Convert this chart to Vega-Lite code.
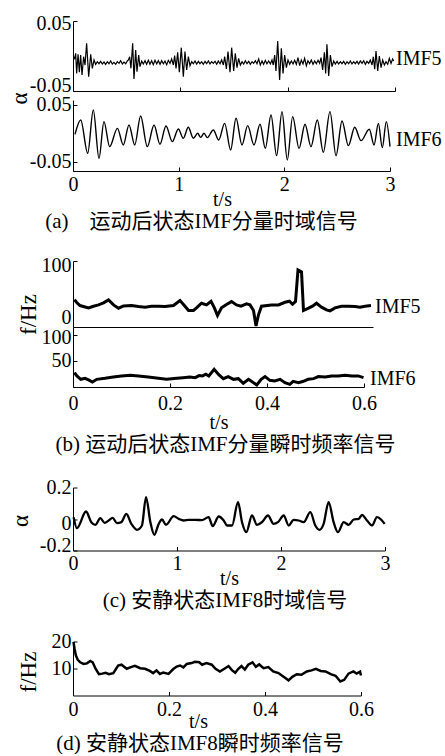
{
  "$schema": "https://vega.github.io/schema/vega-lite/v6.json",
  "padding": {"left": 8, "top": 13, "right": 0, "bottom": 0},
  "background": "white",
  "spacing": 23,
  "config": {
    "view": {"stroke": null},
    "font": "Liberation Serif",
    "axis": {
      "domainColor": "black", "domainWidth": 1, "tickColor": "black", "tickWidth": 1, "tickSize": -4,
      "labelColor": "black", "labelFont": "Liberation Serif", "labelFontSize": 20,
      "labelFlush": false, "labelOverlap": false,
      "titleColor": "black", "titleFont": "Liberation Serif", "titleFontSize": 23, "titleFontWeight": "normal",
      "grid": false
    },
    "axisX": {"labelPadding": 7, "labelAngle": 0, "titlePadding": -3, "titleFontSize": 20},
    "axisY": {"labelPadding": 6, "titleAngle": -90, "titleBaseline": "middle", "titleAlign": "center"},
    "title": {"font": "'Liberation Serif', 'Noto Sans CJK SC'", "fontSize": 21, "fontWeight": "normal", "color": "black", "orient": "bottom", "frame": "group", "anchor": "middle"},
    "text": {"font": "Liberation Serif", "fontSize": 20, "align": "left", "baseline": "middle", "color": "black"}
  },
  "vconcat": [
    {
      "bounds": "flush",
      "spacing": 9,
      "vconcat": [
        {
          "width": 322, "height": 70,
          "data": {"values": [
            {"t":0.009,"v":-0.0010},{"t":0.016,"v":-0.0033},{"t":0.025,"v":0.0038},{"t":0.034,"v":-0.0248},{"t":0.047,"v":0.0024},{"t":0.059,"v":-0.0233},{"t":0.071,"v":0.0014},{"t":0.084,"v":-0.0271},{"t":0.099,"v":-0.0010},{"t":0.112,"v":-0.0129},{"t":0.127,"v":0.0181},{"t":0.146,"v":-0.0295},{"t":0.165,"v":0.0024},{"t":0.180,"v":-0.0176},{"t":0.196,"v":-0.0057},{"t":0.211,"v":-0.0119},
            {"t":0.227,"v":-0.0081},{"t":0.242,"v":-0.0110},{"t":0.258,"v":-0.0076},{"t":0.273,"v":-0.0114},{"t":0.289,"v":-0.0086},{"t":0.304,"v":-0.0119},{"t":0.320,"v":-0.0081},{"t":0.335,"v":-0.0110},{"t":0.351,"v":-0.0071},{"t":0.366,"v":-0.0114},{"t":0.382,"v":-0.0090},{"t":0.398,"v":-0.0119},{"t":0.413,"v":-0.0081},{"t":0.429,"v":-0.0105},{"t":0.444,"v":-0.0067},{"t":0.460,"v":-0.0114},{"t":0.475,"v":-0.0086},{"t":0.491,"v":-0.0110},{"t":0.506,"v":-0.0071},
            {"t":0.516,"v":-0.0057},{"t":0.528,"v":-0.0010},{"t":0.540,"v":-0.0176},{"t":0.556,"v":0.0181},{"t":0.568,"v":-0.0329},{"t":0.584,"v":0.0086},{"t":0.596,"v":-0.0224},{"t":0.612,"v":0.0014},{"t":0.624,"v":-0.0152},{"t":0.640,"v":-0.0071},
            {"t":0.655,"v":-0.0114},{"t":0.671,"v":-0.0067},{"t":0.686,"v":-0.0119},{"t":0.702,"v":-0.0062},{"t":0.717,"v":-0.0119},{"t":0.733,"v":-0.0067},{"t":0.748,"v":-0.0124},{"t":0.764,"v":-0.0062},{"t":0.780,"v":-0.0114},{"t":0.795,"v":-0.0067},{"t":0.811,"v":-0.0119},{"t":0.826,"v":-0.0067},{"t":0.842,"v":-0.0110},{"t":0.857,"v":-0.0071},{"t":0.873,"v":-0.0124},{"t":0.888,"v":-0.0062},{"t":0.904,"v":-0.0105},{"t":0.919,"v":-0.0043},
            {"t":0.935,"v":-0.0129},{"t":0.947,"v":0.0005},{"t":0.960,"v":-0.0176},{"t":0.975,"v":0.0052},{"t":0.991,"v":-0.0233},{"t":1.009,"v":0.0119},{"t":1.028,"v":-0.0295},{"t":1.043,"v":0.0062},{"t":1.059,"v":-0.0200},{"t":1.075,"v":-0.0010},{"t":1.090,"v":-0.0138},{"t":1.106,"v":-0.0081},
            {"t":1.121,"v":-0.0110},{"t":1.137,"v":-0.0071},{"t":1.152,"v":-0.0114},{"t":1.168,"v":-0.0076},{"t":1.183,"v":-0.0110},{"t":1.199,"v":-0.0081},{"t":1.214,"v":-0.0119},{"t":1.230,"v":-0.0076},{"t":1.245,"v":-0.0110},{"t":1.261,"v":-0.0071},{"t":1.276,"v":-0.0114},{"t":1.292,"v":-0.0081},{"t":1.307,"v":-0.0105},{"t":1.323,"v":-0.0076},{"t":1.339,"v":-0.0119},{"t":1.354,"v":-0.0071},{"t":1.370,"v":-0.0110},{"t":1.385,"v":-0.0057},
            {"t":1.401,"v":-0.0129},{"t":1.413,"v":-0.0010},{"t":1.429,"v":-0.0186},{"t":1.444,"v":0.0062},{"t":1.463,"v":-0.0233},{"t":1.478,"v":0.0119},{"t":1.497,"v":-0.0214},{"t":1.512,"v":0.0038},{"t":1.528,"v":-0.0167},{"t":1.543,"v":-0.0033},{"t":1.559,"v":-0.0129},
            {"t":1.575,"v":-0.0081},{"t":1.590,"v":-0.0114},{"t":1.606,"v":-0.0067},{"t":1.621,"v":-0.0110},{"t":1.637,"v":-0.0076},{"t":1.652,"v":-0.0119},{"t":1.668,"v":-0.0081},{"t":1.683,"v":-0.0105},{"t":1.699,"v":-0.0067},{"t":1.714,"v":-0.0110},{"t":1.730,"v":-0.0043},{"t":1.745,"v":-0.0129},{"t":1.761,"v":-0.0071},{"t":1.776,"v":-0.0119},{"t":1.792,"v":-0.0062},{"t":1.807,"v":-0.0110},{"t":1.823,"v":-0.0071},{"t":1.839,"v":-0.0114},{"t":1.854,"v":-0.0057},
            {"t":1.866,"v":-0.0129},{"t":1.879,"v":0.0014},{"t":1.891,"v":-0.0214},{"t":1.907,"v":0.0214},{"t":1.925,"v":-0.0343},{"t":1.941,"v":0.0110},{"t":1.957,"v":-0.0248},{"t":1.972,"v":0.0014},{"t":1.988,"v":-0.0167},{"t":2.003,"v":-0.0057},{"t":2.019,"v":-0.0119},
            {"t":2.034,"v":-0.0071},{"t":2.050,"v":-0.0114},{"t":2.065,"v":-0.0062},{"t":2.081,"v":-0.0119},{"t":2.096,"v":-0.0024},{"t":2.112,"v":-0.0138},{"t":2.127,"v":-0.0057},{"t":2.143,"v":-0.0114},{"t":2.158,"v":-0.0033},{"t":2.174,"v":-0.0138},{"t":2.189,"v":-0.0067},{"t":2.205,"v":-0.0110},{"t":2.220,"v":-0.0057},{"t":2.236,"v":-0.0119},{"t":2.252,"v":-0.0071},{"t":2.267,"v":-0.0110},{"t":2.283,"v":-0.0062},{"t":2.298,"v":-0.0105},
            {"t":2.311,"v":-0.0024},{"t":2.326,"v":-0.0200},{"t":2.342,"v":0.0052},{"t":2.354,"v":-0.0248},{"t":2.366,"v":0.0167},{"t":2.382,"v":-0.0286},{"t":2.398,"v":0.0014},{"t":2.413,"v":-0.0152},{"t":2.429,"v":-0.0071},
            {"t":2.444,"v":-0.0114},{"t":2.460,"v":-0.0076},{"t":2.475,"v":-0.0114},{"t":2.491,"v":-0.0081},{"t":2.506,"v":-0.0110},{"t":2.522,"v":-0.0076},{"t":2.537,"v":-0.0119},{"t":2.553,"v":-0.0081},{"t":2.568,"v":-0.0110},{"t":2.584,"v":-0.0071},{"t":2.599,"v":-0.0114},{"t":2.615,"v":-0.0081},{"t":2.630,"v":-0.0110},{"t":2.646,"v":-0.0076},{"t":2.661,"v":-0.0114},{"t":2.677,"v":-0.0071},{"t":2.693,"v":-0.0105},{"t":2.708,"v":-0.0067},{"t":2.724,"v":-0.0119},{"t":2.739,"v":-0.0076},{"t":2.755,"v":-0.0105},{"t":2.770,"v":-0.0057},
            {"t":2.786,"v":-0.0129},{"t":2.798,"v":-0.0010},{"t":2.811,"v":-0.0190},{"t":2.823,"v":0.0071},{"t":2.839,"v":-0.0214},{"t":2.854,"v":0.0000},{"t":2.870,"v":-0.0167},{"t":2.885,"v":-0.0057},{"t":2.901,"v":-0.0129},
            {"t":2.916,"v":-0.0081},{"t":2.932,"v":-0.0119},{"t":2.947,"v":-0.0033},{"t":2.963,"v":-0.0105},{"t":2.978,"v":-0.0043},{"t":2.988,"v":-0.0071}
          ]},
          "layer": [
            {
              "mark": {"type": "line", "color": "black", "strokeWidth": 1.2},
              "encoding": {
                "x": {"field": "t", "type": "quantitative", "scale": {"domain": [0, 3], "nice": false, "zero": false},
                      "axis": {"values": [0, 1, 2, 3], "labels": false, "title": null}},
                "y": {"field": "v", "type": "quantitative", "scale": {"domain": [-0.05, 0.05], "nice": false, "zero": false},
                      "axis": {"values": [-0.05, 0, 0.05], "labelExpr": "'' + datum.value", "title": null,
                               "labelOffset": {"condition": {"test": "datum.value < 0", "value": -6}, "value": 2}}}
              }
            },
            {
              "data": {"values": [{"label": "IMF5"}]},
              "mark": {"type": "text", "dx": 1},
              "encoding": {
                "x": {"datum": 3, "type": "quantitative", "title": null},
                "y": {"datum": -0.004, "type": "quantitative", "title": null},
                "text": {"field": "label"}
              }
            }
          ]
        },
        {
          "width": 317, "height": 71,
          "title": {"text": "(a)\u3000运动后状态IMF分量时域信号", "dx": -30, "offset": 1.5},
          "data": {"values": [
            {"t":0.019,"v":-0.0018},{"t":0.073,"v":0.0235},{"t":0.139,"v":-0.0353},{"t":0.192,"v":0.0412},{"t":0.246,"v":-0.0441},{"t":0.293,"v":0.0206},{"t":0.347,"v":-0.0235},{"t":0.420,"v":0.0088},{"t":0.476,"v":-0.0206},{"t":0.530,"v":0.0147},{"t":0.584,"v":-0.0206},{"t":0.640,"v":0.0306},{"t":0.703,"v":-0.0235},{"t":0.767,"v":0.0147},{"t":0.823,"v":-0.0194},{"t":0.880,"v":0.0129},{"t":0.940,"v":-0.0147},{"t":0.997,"v":0.0076},{"t":1.044,"v":-0.0088},{"t":1.091,"v":0.0106},{"t":1.139,"v":-0.0088},{"t":1.180,"v":0.0000},{"t":1.208,"v":-0.0071},{"t":1.240,"v":0.0000},{"t":1.271,"v":-0.0076},{"t":1.328,"v":0.0059},{"t":1.379,"v":-0.0118},{"t":1.435,"v":0.0176},{"t":1.492,"v":-0.0294},{"t":1.543,"v":0.0265},{"t":1.599,"v":-0.0206},{"t":1.653,"v":0.0135},{"t":1.713,"v":-0.0206},{"t":1.770,"v":0.0159},{"t":1.820,"v":-0.0265},{"t":1.874,"v":0.0323},{"t":1.927,"v":-0.0394},{"t":1.978,"v":0.0382},{"t":2.028,"v":-0.0470},{"t":2.079,"v":0.0294},{"t":2.139,"v":-0.0265},{"t":2.196,"v":0.0159},{"t":2.252,"v":-0.0235},{"t":2.312,"v":0.0235},{"t":2.369,"v":-0.0335},{"t":2.432,"v":0.0382},{"t":2.489,"v":-0.0394},{"t":2.546,"v":0.0218},{"t":2.606,"v":-0.0218},{"t":2.666,"v":0.0106},{"t":2.726,"v":-0.0129},{"t":2.804,"v":0.0071},{"t":2.849,"v":-0.0206},{"t":2.890,"v":0.0176},{"t":2.927,"v":-0.0253},{"t":2.965,"v":0.0206},{"t":3.000,"v":-0.0235}
          ]},
          "layer": [
            {
              "mark": {"type": "line", "color": "black", "strokeWidth": 1.4, "interpolate": "monotone"},
              "encoding": {
                "x": {"field": "t", "type": "quantitative", "scale": {"domain": [0, 3], "nice": false, "zero": false},
                      "axis": {"values": [0, 1, 2, 3], "labelExpr": "'' + datum.value", "title": "t/s", "titleX": 149, "labelPadding": 7, "titlePadding": -5}},
                "y": {"field": "v", "type": "quantitative", "scale": {"domain": [-0.0665, 0.0588], "nice": false, "zero": false},
                      "axis": {"values": [-0.05, 0, 0.05], "labelExpr": "'' + datum.value", "title": "α", "titleX": -54, "titleY": -2}}
              }
            },
            {
              "data": {"values": [{"label": "IMF6"}]},
              "mark": {"type": "text", "dx": 6},
              "encoding": {
                "x": {"datum": 3, "type": "quantitative", "title": null},
                "y": {"datum": -0.012, "type": "quantitative", "title": null},
                "text": {"field": "label"}
              }
            }
          ]
        }
      ]
    },
    {
      "spacing": 22.5,
      "vconcat": [
        {
          "bounds": "flush",
          "spacing": 0,
          "vconcat": [
            {
              "width": 300, "height": 66,
              "data": {"values": [
                {"t":0.003,"v":41.5},{"t":0.007,"v":37.5},{"t":0.014,"v":32.5},{"t":0.031,"v":29},{"t":0.041,"v":31.5},{"t":0.051,"v":33.5},{"t":0.061,"v":36.5},{"t":0.071,"v":41},{"t":0.081,"v":33.5},{"t":0.091,"v":28.5},{"t":0.101,"v":32},{"t":0.117,"v":32.5},{"t":0.131,"v":31},{"t":0.144,"v":30},{"t":0.157,"v":31.5},{"t":0.171,"v":31.5},{"t":0.184,"v":31},{"t":0.201,"v":32.5},{"t":0.214,"v":40},{"t":0.224,"v":31.5},{"t":0.231,"v":25},{"t":0.241,"v":25},{"t":0.247,"v":29},{"t":0.257,"v":36},{"t":0.267,"v":33.5},{"t":0.276,"v":39},{"t":0.283,"v":28.5},{"t":0.289,"v":17.5},{"t":0.297,"v":29},{"t":0.307,"v":34},{"t":0.317,"v":38.5},{"t":0.327,"v":33.5},{"t":0.336,"v":31.5},{"t":0.347,"v":35},{"t":0.354,"v":33.5},{"t":0.361,"v":25},{"t":0.366,"v":1.5},{"t":0.371,"v":18.5},{"t":0.377,"v":31.5},{"t":0.397,"v":33.5},{"t":0.411,"v":33.5},{"t":0.424,"v":37.5},{"t":0.433,"v":39},{"t":0.439,"v":34.5},{"t":0.445,"v":38.5},{"t":0.450,"v":86.5},{"t":0.457,"v":83.5},{"t":0.461,"v":25},{"t":0.471,"v":28.5},{"t":0.479,"v":31.5},{"t":0.487,"v":36},{"t":0.497,"v":30},{"t":0.507,"v":26},{"t":0.514,"v":24.5},{"t":0.524,"v":29},{"t":0.537,"v":31.5},{"t":0.551,"v":31.5},{"t":0.564,"v":31},{"t":0.574,"v":30},{"t":0.584,"v":31.5},{"t":0.596,"v":32.5}
              ]},
              "layer": [
                {
                  "mark": {"type": "line", "color": "black", "strokeWidth": 3},
                  "encoding": {
                    "x": {"field": "t", "type": "quantitative", "scale": {"domain": [0, 0.6], "nice": false, "zero": false},
                          "axis": {"ticks": false, "labels": false, "title": null}},
                    "y": {"field": "v", "type": "quantitative", "scale": {"domain": [0, 100], "nice": false},
                          "axis": {"values": [0, 50, 100], "labelExpr": "'' + datum.value", "title": "f/Hz", "titleX": -45, "titleY": 53,
                                   "labelOffset": {"condition": [{"test": "datum.value == 0", "value": -10}, {"test": "datum.value == 100", "value": 4}], "value": -3}}}
                  }
                },
                {
                  "data": {"values": [{"label": "IMF5"}]},
                  "mark": {"type": "text", "dx": 2},
                  "encoding": {
                    "x": {"datum": 0.6, "type": "quantitative", "title": null},
                    "y": {"datum": 30, "type": "quantitative", "title": null},
                    "text": {"field": "label"}
                  }
                }
              ]
            },
            {
              "width": 291, "height": 60,
              "title": {"text": "(b) 运动后状态IMF分量瞬时频率信号", "dx": 7, "offset": 2},
              "data": {"values": [
                {"t":0.003,"v":27.6},{"t":0.008,"v":21.2},{"t":0.016,"v":14.7},{"t":0.025,"v":16.7},{"t":0.032,"v":13.5},{"t":0.040,"v":9.6},{"t":0.049,"v":14.7},{"t":0.066,"v":16.7},{"t":0.083,"v":19.2},{"t":0.100,"v":21.2},{"t":0.118,"v":22.4},{"t":0.135,"v":21.2},{"t":0.155,"v":19.2},{"t":0.176,"v":16.7},{"t":0.193,"v":14.7},{"t":0.214,"v":16.7},{"t":0.227,"v":17.9},{"t":0.241,"v":19.2},{"t":0.252,"v":17.9},{"t":0.260,"v":21.8},{"t":0.267,"v":21.2},{"t":0.274,"v":24.4},{"t":0.280,"v":21.2},{"t":0.291,"v":34.0},{"t":0.301,"v":23.1},{"t":0.310,"v":16.0},{"t":0.320,"v":19.9},{"t":0.331,"v":14.7},{"t":0.341,"v":16.0},{"t":0.351,"v":7.1},{"t":0.362,"v":14.7},{"t":0.370,"v":9.6},{"t":0.379,"v":3.8},{"t":0.388,"v":14.7},{"t":0.396,"v":19.9},{"t":0.406,"v":12.8},{"t":0.416,"v":11.5},{"t":0.427,"v":14.7},{"t":0.437,"v":8.3},{"t":0.447,"v":5.1},{"t":0.454,"v":10.9},{"t":0.465,"v":8.3},{"t":0.475,"v":10.9},{"t":0.485,"v":14.7},{"t":0.496,"v":16.0},{"t":0.506,"v":19.9},{"t":0.520,"v":19.2},{"t":0.533,"v":21.2},{"t":0.547,"v":21.2},{"t":0.561,"v":22.4},{"t":0.575,"v":21.2},{"t":0.588,"v":21.2},{"t":0.599,"v":17.9}
              ]},
              "layer": [
                {
                  "mark": {"type": "line", "color": "black", "strokeWidth": 3},
                  "encoding": {
                    "x": {"field": "t", "type": "quantitative", "scale": {"domain": [0, 0.6], "nice": false, "zero": false},
                          "axis": {"values": [0, 0.2, 0.4, 0.6], "labelExpr": "'' + datum.value", "title": "t/s", "labelPadding": 10, "titlePadding": -1}},
                    "y": {"field": "v", "type": "quantitative", "scale": {"domain": [0, 115], "nice": false},
                          "axis": {"values": [50, 100], "labelExpr": "'' + datum.value", "title": null,
                                   "labelOffset": {"condition": {"test": "datum.value == 100", "value": 3}, "value": 0}}}
                  }
                },
                {
                  "data": {"values": [{"label": "IMF6"}]},
                  "mark": {"type": "text", "dx": 6},
                  "encoding": {
                    "x": {"datum": 0.6, "type": "quantitative", "title": null},
                    "y": {"datum": 15.4, "type": "quantitative", "title": null},
                    "text": {"field": "label"}
                  }
                }
              ]
            }
          ]
        },
        {
          "spacing": 20,
          "vconcat": [
            {
              "width": 312, "height": 63,
              "title": {"text": "(c) 安静状态IMF8时域信号", "dx": -4, "offset": 1.5},
              "data": {"values": [
                {"t":0.006,"v":0.0116},{"t":0.038,"v":-0.0582},{"t":0.125,"v":0.0476},{"t":0.176,"v":-0.0201},{"t":0.215,"v":-0.0370},{"t":0.263,"v":0.0053},{"t":0.304,"v":-0.0243},{"t":0.343,"v":-0.0095},{"t":0.381,"v":0.0074},{"t":0.423,"v":-0.0265},{"t":0.465,"v":-0.0201},{"t":0.513,"v":0.0328},{"t":0.561,"v":-0.0307},{"t":0.615,"v":-0.0688},{"t":0.663,"v":-0.0413},{"t":0.702,"v":0.1386},{"t":0.744,"v":-0.0201},{"t":0.782,"v":-0.1005},{"t":0.824,"v":-0.0307},{"t":0.856,"v":-0.0032},{"t":0.894,"v":-0.0370},{"t":0.968,"v":0.0180},{"t":1.016,"v":0.0011},{"t":1.064,"v":-0.0095},{"t":1.112,"v":-0.0053},{"t":1.176,"v":-0.0053},{"t":1.240,"v":-0.0074},{"t":1.304,"v":0.0116},{"t":1.343,"v":-0.0455},{"t":1.401,"v":0.0159},{"t":1.449,"v":-0.0095},{"t":1.481,"v":-0.0413},{"t":1.529,"v":-0.0413},{"t":1.587,"v":0.1069},{"t":1.625,"v":-0.0201},{"t":1.667,"v":-0.0836},{"t":1.721,"v":0.0222},{"t":1.769,"v":-0.0370},{"t":1.817,"v":-0.0201},{"t":1.875,"v":0.0222},{"t":1.929,"v":-0.0307},{"t":1.971,"v":-0.0201},{"t":2.026,"v":0.0222},{"t":2.074,"v":-0.0413},{"t":2.122,"v":-0.0053},{"t":2.170,"v":-0.0095},{"t":2.218,"v":-0.0201},{"t":2.282,"v":0.0434},{"t":2.330,"v":-0.0413},{"t":2.369,"v":-0.0688},{"t":2.410,"v":-0.0307},{"t":2.458,"v":0.1069},{"t":2.506,"v":-0.0201},{"t":2.548,"v":-0.0836},{"t":2.603,"v":-0.0201},{"t":2.651,"v":-0.0370},{"t":2.699,"v":-0.0032},{"t":2.747,"v":0.0011},{"t":2.779,"v":0.0265},{"t":2.827,"v":-0.0095},{"t":2.875,"v":-0.0413},{"t":2.923,"v":0.0116},{"t":2.955,"v":0.0011},{"t":2.997,"v":-0.0307}
              ]},
              "mark": {"type": "line", "color": "black", "strokeWidth": 2.3, "interpolate": "monotone"},
              "encoding": {
                "x": {"field": "t", "type": "quantitative", "scale": {"domain": [0, 3], "nice": false, "zero": false},
                      "axis": {"values": [0, 1, 2, 3], "labelExpr": "'' + datum.value", "title": "t/s", "labelPadding": 7, "titlePadding": -5}},
                "y": {"field": "v", "type": "quantitative", "scale": {"domain": [-0.2, 0.2], "nice": false, "zero": false},
                      "axis": {"values": [-0.2, 0, 0.2], "labelExpr": "'' + datum.value", "title": "α", "titleX": -53, "titleY": 33,
                               "labelOffset": {"condition": [{"test": "datum.value < 0", "value": -5}, {"test": "datum.value == 0", "value": 4}], "value": 0}}}
              }
            },
            {
              "width": 288, "height": 54,
              "title": {"text": "(d) 安静状态IMF8瞬时频率信号", "dx": -17, "offset": 1.5},
              "data": {"values": [
                {"t":0.001,"v":19.8},{"t":0.003,"v":17.5},{"t":0.006,"v":14.8},{"t":0.010,"v":13.2},{"t":0.015,"v":12.3},{"t":0.022,"v":11.7},{"t":0.029,"v":11.9},{"t":0.036,"v":12.8},{"t":0.041,"v":12.3},{"t":0.047,"v":9.9},{"t":0.054,"v":7.9},{"t":0.061,"v":8.1},{"t":0.068,"v":8.4},{"t":0.075,"v":7.9},{"t":0.084,"v":8.3},{"t":0.094,"v":11.1},{"t":0.101,"v":11.4},{"t":0.112,"v":9.9},{"t":0.122,"v":10.6},{"t":0.129,"v":11.0},{"t":0.140,"v":10.1},{"t":0.150,"v":9.9},{"t":0.160,"v":9.1},{"t":0.167,"v":8.3},{"t":0.174,"v":9.3},{"t":0.181,"v":8.0},{"t":0.188,"v":8.5},{"t":0.199,"v":8.0},{"t":0.209,"v":9.8},{"t":0.216,"v":10.7},{"t":0.223,"v":11.1},{"t":0.230,"v":10.4},{"t":0.237,"v":11.7},{"t":0.247,"v":12.0},{"t":0.254,"v":12.5},{"t":0.263,"v":12.3},{"t":0.269,"v":11.4},{"t":0.278,"v":12.0},{"t":0.289,"v":11.4},{"t":0.297,"v":9.9},{"t":0.306,"v":8.9},{"t":0.317,"v":10.1},{"t":0.324,"v":10.9},{"t":0.331,"v":9.4},{"t":0.338,"v":8.4},{"t":0.344,"v":9.8},{"t":0.351,"v":10.9},{"t":0.358,"v":9.6},{"t":0.365,"v":11.4},{"t":0.374,"v":12.3},{"t":0.381,"v":10.6},{"t":0.388,"v":11.5},{"t":0.397,"v":10.1},{"t":0.407,"v":10.5},{"t":0.417,"v":8.9},{"t":0.428,"v":8.3},{"t":0.438,"v":7.0},{"t":0.449,"v":5.6},{"t":0.457,"v":6.9},{"t":0.466,"v":7.9},{"t":0.476,"v":7.7},{"t":0.487,"v":8.9},{"t":0.497,"v":9.3},{"t":0.506,"v":9.9},{"t":0.516,"v":9.1},{"t":0.526,"v":8.9},{"t":0.537,"v":7.9},{"t":0.547,"v":7.3},{"t":0.557,"v":5.2},{"t":0.565,"v":5.8},{"t":0.574,"v":8.1},{"t":0.584,"v":8.9},{"t":0.591,"v":8.1},{"t":0.598,"v":8.8},{"t":0.600,"v":7.4}
              ]},
              "mark": {"type": "line", "color": "black", "strokeWidth": 2.5},
              "encoding": {
                "x": {"field": "t", "type": "quantitative", "scale": {"domain": [0, 0.6], "nice": false, "zero": false},
                      "axis": {"values": [0, 0.2, 0.4, 0.6], "labelExpr": "'' + datum.value", "title": "t/s", "titleX": 125, "labelPadding": 7.5, "titlePadding": -8}},
                "y": {"field": "v", "type": "quantitative", "scale": {"domain": [0, 20], "nice": false},
                      "axis": {"values": [10, 20], "labelExpr": "'' + datum.value", "title": "f/Hz", "titleX": -45, "titleY": 30}}
              }
            }
          ]
        }
      ]
    }
  ]
}
